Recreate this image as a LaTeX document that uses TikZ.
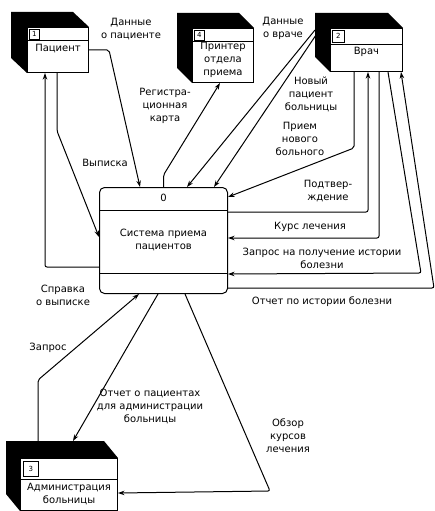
\documentclass[tikz,border=0pt]{standalone}
\usepackage{fontspec}
\setmainfont{DejaVu Sans}
\usetikzlibrary{positioning}
\usetikzlibrary{calc}
\usetikzlibrary{arrows.meta}
\tikzset{>={Stealth[length=6.5pt,width=4.5pt]}}
\tikzset{
	% external entity box
	entity/.style={draw,line width=1pt,fill=white,anchor=north west,inner sep=0pt},
	% number cell in the corner of an entity
	numcell/.style={draw,line width=0.8pt,fill=white,anchor=north west,minimum size=10pt,inner sep=0pt,font=\fontsize{7}{8}\selectfont},
	% process box
	proc/.style={draw,line width=1pt,rounded corners=5pt,anchor=north west,inner sep=0pt},
	% data flow
	flow/.style={->,line width=1pt,rounded corners=2pt},
	% label of a data flow
	flowlabel/.style={align=center,inner sep=0pt},
}

\begin{document}
\begin{tikzpicture}[x=1pt,y=-1pt,font=\fontsize{10}{13}\selectfont]
\useasboundingbox (0,0) rectangle (435,511);

% external entities
\node[entity,minimum width=61,minimum height=45] (pac) at (27,27) {};
\node[entity,minimum width=61,minimum height=54] (prn) at (192,28) {};
\node[entity,minimum width=72,minimum height=43] (doc) at (330,28) {};
\node[entity,minimum width=97,minimum height=52] (adm) at (20,458) {};

% the black depth of the entities
\fill (pac.south west) -- ++(-16,-15) -- ($(pac.north west)+(-16,-15)$) -- ($(pac.north east)+(-16,-15)$) -- (pac.north east) -- (pac.north west) -- cycle;
\fill (prn.south west) -- ++(-15,-15) -- ($(prn.north west)+(-15,-15)$) -- ($(prn.north east)+(-15,-15)$) -- (prn.north east) -- (prn.north west) -- cycle;
\fill (doc.south west) -- ++(-15,-15) -- ($(doc.north west)+(-15,-15)$) -- ($(doc.north east)+(-15,-15)$) -- (doc.north east) -- (doc.north west) -- cycle;
\fill (adm.south west) -- ++(-14,-17) -- ($(adm.north west)+(-14,-17)$) -- ($(adm.north east)+(-14,-17)$) -- (adm.north east) -- (adm.north west) -- cycle;

% number rows
\draw[line width=1pt] ($(pac.north west)+(0,14)$) -- ($(pac.north east)+(0,14)$);
\draw[line width=1pt] ($(prn.north west)+(0,14)$) -- ($(prn.north east)+(0,14)$);
\draw[line width=1pt] ($(doc.north west)+(0,17)$) -- ($(doc.north east)+(0,17)$);
\draw[line width=1pt] ($(adm.north west)+(0,21)$) -- ($(adm.north east)+(0,21)$);
\node[numcell] (pacnum) at ($(pac.north west)+(2,2)$) {1};
\node[numcell] (prnnum) at ($(prn.north west)+(2,2)$) {4};
\node[numcell,minimum size=12pt] (docnum) at ($(doc.north west)+(2,2)$) {2};
\node[numcell,minimum size=15pt] (admnum) at ($(adm.north west)+(3,3)$) {3};

% entity names
\node (pactxt) at ($(pac.north)+(0,22)$) {Пациент};
\node[align=center] (prntxt) at ($(prn.north)+(0,32)$) {Принтер\\отдела\\приема};
\node (doctxt) at ($(doc.north)+(0,24)$) {Врач};
\node[align=center] (admtxt) at ($(adm.north)+(0,36)$) {Администрация\\больницы};

% the process
\node[proc,minimum width=128,minimum height=106] (sys) at (99,187) {};
\draw[line width=1pt] ($(sys.north west)+(0,23)$) -- ($(sys.north east)+(0,23)$);
\draw[line width=1pt] ($(sys.south west)+(0,-21)$) -- ($(sys.south east)+(0,-21)$);
\node (sysnum) at ($(sys.north)+(0,11)$) {0};
\node[align=center] (systxt) at ($(sys.center)+(0,-1)$) {Система приема\\пациентов};

% flows of the patient
\draw[flow] (pac.east) -- ++(20,0) -- ($(sys.north west)+(41,0)$);
\draw[flow] ($(pac.south west)+(30,0)$) -- ++(0,58) -- ($(sys.north west)+(0,50)$);
\draw[flow] ($(sys.north west)+(0,80)$) -| ($(pac.south west)+(18,0)$);
% flow to the printer
\draw[flow] (sys.north) -- ++(0,-12) -- ($(prn.south west)+(28,0)$);
% flows of the doctor
\draw[flow] ($(doc.north west)+(-15,2)$) -- ($(sys.north west)+(88,0)$);
\draw[flow] ($(doc.north west)+(-14,7)$) -- ($(sys.north west)+(115,0)$);
\draw[flow] ($(doc.south west)+(24,0)$) -- ++(0,76) -- ($(sys.north east)+(0,10)$);
\draw[flow] ($(sys.north east)+(0,25)$) -| ($(doc.south west)+(38,0)$);
\draw[flow] ($(doc.south west)+(49,0)$) |- ($(sys.north east)+(0,51)$);
\draw[flow] ($(doc.south west)+(58,0)$) -- ++(33,201) -- ($(sys.south east)+(0,-20)$);
\draw[flow] ($(sys.south east)+(0,-6)$) -- ++(206,0) -- ($(doc.south east)+(-2,0)$);
% flows of the administration
\draw[flow] ($(adm.north west)+(18,-17)$) -- ++(0,-61) -- ($(sys.south west)+(40,0)$);
\draw[flow] ($(sys.south west)+(59,0)$) -- ($(adm.north west)+(53,-17)$);
\draw[flow] ($(sys.south west)+(86,0)$) -- ++(85,197) -- ($(adm.south east)+(0,-18)$);

% labels
\node[flowlabel] (lpacdata) at (131,29) {Данные\\о пациенте};
\node[flowlabel] (lextract) at (105,163) {Выписка};
\node[flowlabel] (lcert) at (63,295) {Справка\\о выписке};
\node[flowlabel] (lcard) at (165,106) {Регистра-\\ционная\\карта};
\node[flowlabel] (ldocdata) at (283,28) {Данные\\о враче};
\node[flowlabel] (lnewpat) at (311,94) {Новый\\пациент\\больницы};
\node[flowlabel] (ladmit) at (300,139) {Прием\\нового\\больного};
\node[flowlabel] (lconfirm) at (328,191) {Подтвер-\\ждение};
\node[flowlabel] (lcourse) at (310,227) {Курс лечения};
\node[flowlabel] (lhistreq) at (322,258) {Запрос на получение истории\\болезни};
\node[flowlabel] (lhistrep) at (322,302) {Отчет по истории болезни};
\node[flowlabel] (lrequest) at (48,348) {Запрос};
\node[flowlabel] (lpatrep) at (150,406) {Отчет о пациентах\\для администрации\\больницы};
\node[flowlabel] (lreview) at (288,436) {Обзор\\курсов\\лечения};
\end{tikzpicture}
\end{document}
